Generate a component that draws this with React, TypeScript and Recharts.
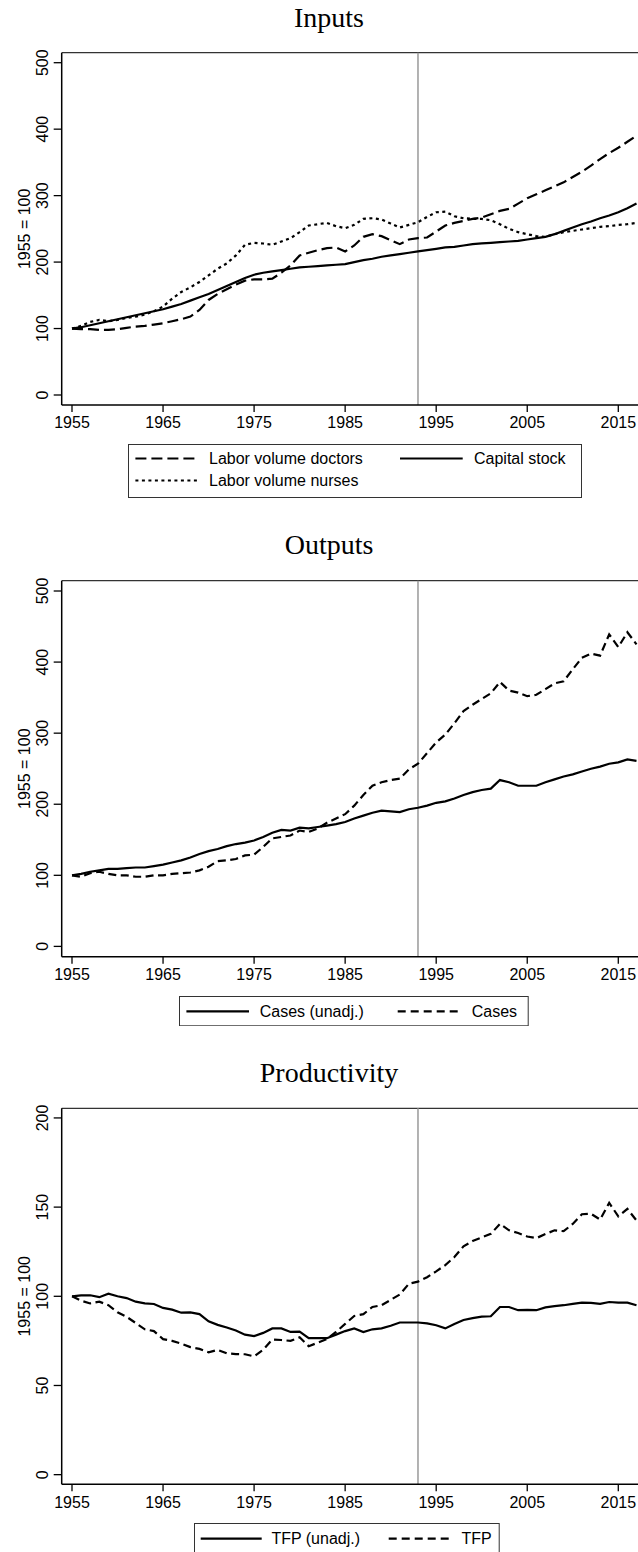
import React from 'react';
import { LineChart, Line, XAxis, YAxis, ReferenceLine, Legend, Customized } from 'recharts';

const years = [
  1955, 1956, 1957, 1958, 1959, 1960, 1961, 1962, 1963, 1964,
  1965, 1966, 1967, 1968, 1969, 1970, 1971, 1972, 1973, 1974,
  1975, 1976, 1977, 1978, 1979, 1980, 1981, 1982, 1983, 1984,
  1985, 1986, 1987, 1988, 1989, 1990, 1991, 1992, 1993, 1994,
  1995, 1996, 1997, 1998, 1999, 2000, 2001, 2002, 2003, 2004,
  2005, 2006, 2007, 2008, 2009, 2010, 2011, 2012, 2013, 2014,
  2015, 2016, 2017,
];

// Inputs
const laborDoctors = [
  100, 99, 99, 98, 98, 99, 101, 103, 104, 106,
  108, 111, 114, 118, 128, 143, 152, 159, 166, 172,
  174, 174, 175, 184, 195, 210, 214, 218, 221, 222,
  216, 225, 238, 242, 239, 233, 227, 234, 236, 237,
  246, 255, 259, 262, 265, 267, 272, 277, 280, 288,
  296, 302, 308, 314, 320, 328, 336, 345, 355, 364,
  372, 381, 390,
];
const laborNurses = [
  100, 104, 110, 113, 111, 113, 116, 118, 121, 126,
  133, 145, 155, 162, 170, 180, 190, 198, 210, 226,
  229, 228, 226, 231, 236, 245, 255, 257, 259, 254,
  251, 256, 265, 266, 264, 258, 252, 256, 260, 268,
  275, 276, 269, 266, 265, 265, 263, 257, 250, 245,
  242, 239, 238, 242, 245, 247, 249, 251, 253, 254,
  256, 257, 259,
];
const capitalStock = [
  100, 102, 105, 108, 111, 114, 117, 120, 123, 126,
  129, 133, 137, 142, 147, 152, 158, 164, 170, 176,
  181, 184, 186, 188, 190, 192, 193, 194, 195, 196,
  197, 200, 203, 205, 208, 210, 212, 214, 216, 218,
  220, 222, 223, 225, 227, 228, 229, 230, 231, 232,
  234, 236, 238, 242, 247, 252, 257, 261, 266, 270,
  275, 281, 288,
];

// Outputs
const casesUnadj = [
  100, 102, 105, 107, 109, 109, 110, 111, 111, 113,
  115, 118, 121, 125, 130, 134, 137, 141, 144, 146,
  149, 154, 160, 164, 163, 167, 166, 168, 170, 172,
  175, 180, 184, 188, 191, 190, 189, 193, 195, 198,
  202, 204, 208, 213, 217, 220, 222, 234, 231, 226,
  226, 226, 231, 235, 239, 242, 246, 250, 253, 257,
  259, 263, 261,
];
const cases = [
  100, 98, 103, 105, 102, 100, 100, 98, 98, 100,
  100, 102, 103, 104, 107, 112, 120, 121, 123, 128,
  129, 140, 152, 154, 156, 163, 161, 166, 174, 180,
  186, 198, 213, 226, 231, 234, 236, 249, 257, 272,
  287, 298, 314, 331, 340, 348, 356, 372, 360, 357,
  352, 354, 362, 370, 373, 390, 406, 412, 409, 439,
  421, 442, 425,
];

// Productivity
const tfpUnadj = [
  100, 100.5, 100.6, 99.5, 101.5, 100, 99, 97, 96, 95.7,
  93.5, 92.5, 90.8, 91, 90, 86, 84, 82.5, 80.8, 78.5,
  77.7, 79.5, 82, 82, 80, 80.2, 76.5, 76.5, 76.5, 78.5,
  80.5, 82, 80, 81.5, 82, 83.5, 85.3, 85.3, 85.3, 84.8,
  83.8, 82, 84.5, 86.7, 87.8, 88.6, 88.8, 94, 94, 92.2,
  92.4, 92.2, 93.8, 94.5, 95, 95.8, 96.4, 96.3, 95.8, 96.8,
  96.4, 96.4, 95,
];
const tfp = [
  100, 97.5, 96, 97, 95, 91, 88.5, 85, 81.5, 80.5,
  76, 75, 73.5, 71.5, 70.5, 68.6, 70, 68, 67.6, 67.5,
  66.3, 70, 75.8, 75.5, 75, 77, 72, 74, 76, 80,
  84.5, 89, 90, 94, 95, 98, 101, 107, 108.2, 110.7,
  114, 117.5, 122, 128, 131, 133, 135, 140.6, 137, 135.5,
  133.5, 132.6, 134.9, 137, 136.5, 140.6, 146, 146.3, 143, 152.4,
  144.8, 149, 142.5,
];

const xTicks = [1955, 1965, 1975, 1985, 1995, 2005, 2015];
const yTicksLevels = [0, 100, 200, 300, 400, 500];
const yTicksProd = [0, 50, 100, 150, 200];
const breakYear = 1993;

const SANS = '"Liberation Sans", Arial, Helvetica, sans-serif';
const SERIF = '"Liberation Serif", "Times New Roman", serif';

const X_DOMAIN: [number, number] = [1953.869, 2018.131];
const CHART_W = 660;
const PLOT_LEFT = 61.7;
const PLOT_RIGHT = 646.8;

type SeriesDef = { key: string; name: string; values: number[]; dash?: string };
type LegendItem = { x1: number; x2: number; lineY: number; textX: number; baseY: number; dash?: string; label: string };
type LegendSpec = { left: number; top: number; w: number; h: number; items: LegendItem[] };

type PanelProps = {
  top: number;
  height: number;
  title: string;
  titleBase: number;
  plotTop: number;
  plotBottom: number;
  yDomain: [number, number];
  yTicks: number[];
  series: SeriesDef[];
  legend: LegendSpec;
};

const YTick = (props: any) => {
  const { x, y, payload } = props;
  return (
    <g>
      <text
        x={x}
        y={y}
        transform={`rotate(-90, ${x}, ${y})`}
        textAnchor="middle"
        fontSize={16}
        fontFamily={SANS}
        fill="#000"
      >
        {payload.value}
      </text>
    </g>
  );
};

function Panel(p: PanelProps) {
  const data = years.map((yr, i) => {
    const row: Record<string, number> = { year: yr };
    p.series.forEach((s) => {
      row[s.key] = s.values[i];
    });
    return row;
  });
  const xAxisH = 40;
  const margin = {
    top: p.plotTop,
    right: CHART_W - PLOT_RIGHT,
    left: 0,
    bottom: p.height - p.plotBottom - xAxisH,
  };
  const midY = (p.plotTop + p.plotBottom) / 2;
  const lg = p.legend;

  const Decor = () => (
    <g>
      <text x={329} y={p.titleBase} textAnchor="middle" fontSize={28} fontFamily={SERIF} fill="#000">
        {p.title}
      </text>
      <text
        x={30}
        y={midY}
        transform={`rotate(-90, 30, ${midY})`}
        textAnchor="middle"
        fontSize={16}
        fontFamily={SANS}
        fill="#000"
      >
        1955 = 100
      </text>
    </g>
  );

  const renderLegend = () => (
    <svg width={lg.w} height={lg.h} style={{ display: 'block' }}>
      <rect x={0.5} y={0.5} width={lg.w - 1} height={lg.h - 1} fill="#fff" stroke="#333" strokeWidth={1} />
      {lg.items.map((it) => (
        <g key={it.label}>
          <line
            x1={it.x1}
            x2={it.x2}
            y1={it.lineY}
            y2={it.lineY}
            stroke="#000"
            strokeWidth={2.2}
            strokeDasharray={it.dash}
          />
          <text x={it.textX} y={it.baseY} fontSize={16} fontFamily={SANS} fill="#000">
            {it.label}
          </text>
        </g>
      ))}
    </svg>
  );

  return (
    <div style={{ position: 'absolute', left: 0, top: p.top }}>
      <LineChart width={CHART_W} height={p.height} data={data} margin={margin}>
        <XAxis
          dataKey="year"
          type="number"
          domain={X_DOMAIN}
          ticks={xTicks}
          interval={0}
          allowDataOverflow
          height={xAxisH}
          tickSize={7}
          tickMargin={5}
          axisLine={{ stroke: '#000', strokeWidth: 1.5 }}
          tickLine={{ stroke: '#000', strokeWidth: 1.3 }}
          tick={{ fill: '#000', fontSize: 16, fontFamily: SANS }}
        />
        <YAxis
          type="number"
          domain={p.yDomain}
          ticks={p.yTicks}
          interval={0}
          allowDataOverflow
          width={PLOT_LEFT}
          tickSize={8}
          tickMargin={6}
          axisLine={{ stroke: '#000', strokeWidth: 1.5 }}
          tickLine={{ stroke: '#000', strokeWidth: 1.3 }}
          tick={<YTick />}
        />
        <ReferenceLine y={p.yDomain[1]} stroke="#333" strokeWidth={1.3} />
        <ReferenceLine x={breakYear} stroke="#999" strokeWidth={1.5} />
        {p.series.map((s) => (
          <Line
            key={s.key}
            dataKey={s.key}
            name={s.name}
            type="linear"
            stroke="#000"
            strokeWidth={2.2}
            strokeDasharray={s.dash}
            strokeLinecap="butt"
            dot={false}
            activeDot={false}
            isAnimationActive={false}
          />
        ))}
        <Legend
          layout="vertical"
          align="center"
          verticalAlign="middle"
          wrapperStyle={{ left: lg.left, top: lg.top, width: lg.w, height: lg.h }}
          content={renderLegend}
        />
        <Customized component={Decor} />
      </LineChart>
    </div>
  );
}

export default function App() {
  return (
    <div
      style={{
        position: 'absolute',
        left: 0,
        top: 0,
        width: 638,
        height: 1552,
        overflow: 'hidden',
        background: '#fff',
      }}
    >
      <Panel
        top={0}
        height={520}
        title="Inputs"
        titleBase={26.7}
        plotTop={52.7}
        plotBottom={405}
        yDomain={[-15.05, 515.05]}
        yTicks={yTicksLevels}
        series={[
          { key: 'doctors', name: 'Labor volume doctors', values: laborDoctors, dash: '11 5' },
          { key: 'capital', name: 'Capital stock', values: capitalStock },
          { key: 'nurses', name: 'Labor volume nurses', values: laborNurses, dash: '3 3.5' },
        ]}
        legend={{
          left: 128,
          top: 444,
          w: 454,
          h: 54,
          items: [
            { x1: 7.4, x2: 70, lineY: 14.5, textX: 81, baseY: 20, dash: '11 5', label: 'Labor volume doctors' },
            { x1: 272, x2: 334.7, lineY: 14.5, textX: 346, baseY: 20, label: 'Capital stock' },
            { x1: 7.4, x2: 70, lineY: 36.5, textX: 81, baseY: 42, dash: '3 3.5', label: 'Labor volume nurses' },
          ],
        }}
      />
      <Panel
        top={520}
        height={520}
        title="Outputs"
        titleBase={34.3}
        plotTop={60.7}
        plotBottom={436.7}
        yDomain={[-14.5, 514.5]}
        yTicks={yTicksLevels}
        series={[
          { key: 'casesUnadj', name: 'Cases (unadj.)', values: casesUnadj },
          { key: 'cases', name: 'Cases', values: cases, dash: '8 4.5' },
        ]}
        legend={{
          left: 179.3,
          top: 475.7,
          w: 349.7,
          h: 30.3,
          items: [
            { x1: 7.4, x2: 70, lineY: 15.3, textX: 80.7, baseY: 21, label: 'Cases (unadj.)' },
            { x1: 218.7, x2: 282.4, lineY: 15.3, textX: 292.7, baseY: 21, dash: '8 5', label: 'Cases' },
          ],
        }}
      />
      <Panel
        top={1040}
        height={512}
        title="Productivity"
        titleBase={41.8}
        plotTop={68.3}
        plotBottom={444.3}
        yDomain={[-5.4, 205.4]}
        yTicks={yTicksProd}
        series={[
          { key: 'tfpUnadj', name: 'TFP (unadj.)', values: tfpUnadj },
          { key: 'tfp', name: 'TFP', values: tfp, dash: '8 4.5' },
        ]}
        legend={{
          left: 194.3,
          top: 482.7,
          w: 305.7,
          h: 36,
          items: [
            { x1: 6.7, x2: 67.7, lineY: 15.6, textX: 77.4, baseY: 21.3, label: 'TFP (unadj.)' },
            { x1: 194.7, x2: 257.4, lineY: 15.6, textX: 267.4, baseY: 21.3, dash: '8 5', label: 'TFP' },
          ],
        }}
      />
    </div>
  );
}
